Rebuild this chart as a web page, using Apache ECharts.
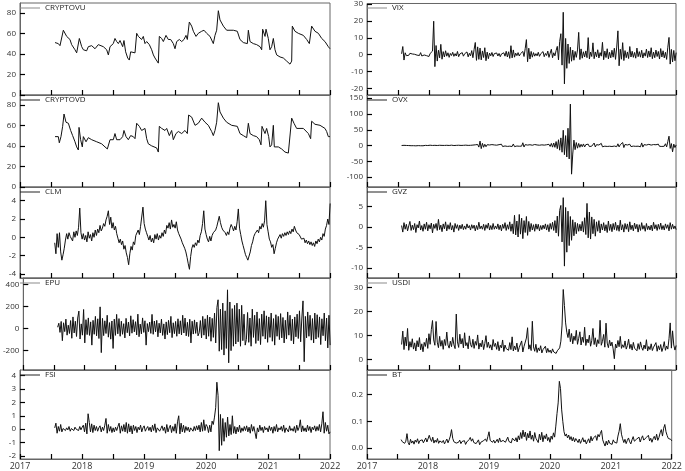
<!DOCTYPE html>
<html>
<head>
<meta charset="utf-8">
<script src="https://cdn.jsdelivr.net/npm/echarts@6/dist/echarts.min.js"></script>
<style>
  html, body { margin: 0; padding: 0; background: #fff; }
  #chart { width: 685px; height: 471px; }
</style>
</head>
<body>
<div id="chart"></div>
<script>
// weekly series start (decimal year) and step
const START = 2017.56;
const STEP = 1 / 52;

// CRYPTOVU / CRYPTOVD: irregular points
const cryptovuTimes = [2017.565,2017.618,2017.645,2017.672,2017.699,2017.715,2017.753,2017.806,2017.833,2017.887,2017.914,2017.941,2017.957,2017.995,2018.022,2018.048,2018.075,2018.102,2018.156,2018.210,2018.263,2018.290,2018.344,2018.398,2018.425,2018.452,2018.505,2018.532,2018.559,2018.586,2018.613,2018.656,2018.677,2018.704,2018.737,2018.763,2018.785,2018.817,2018.855,2018.882,2018.909,2018.962,2018.989,2019.016,2019.043,2019.086,2019.124,2019.151,2019.177,2019.204,2019.231,2019.247,2019.285,2019.312,2019.355,2019.392,2019.430,2019.473,2019.500,2019.527,2019.570,2019.608,2019.645,2019.677,2019.699,2019.731,2019.769,2019.796,2019.839,2019.876,2019.930,2019.968,2020.011,2020.065,2020.118,2020.145,2020.172,2020.199,2020.226,2020.280,2020.333,2020.441,2020.505,2020.548,2020.602,2020.667,2020.683,2020.710,2020.763,2020.817,2020.871,2020.898,2020.914,2020.952,2020.968,2021.005,2021.032,2021.059,2021.086,2021.113,2021.140,2021.194,2021.247,2021.301,2021.355,2021.382,2021.392,2021.435,2021.489,2021.570,2021.624,2021.667,2021.704,2021.758,2021.812,2021.866,2021.919,2021.973,2022.000];
const cryptovuValues = [51,50,48,47,63,64,57,54,49,44,41,42,55,47,44,45,43,47,48,45,49,50,47,44,39,47,50,55,52,50,53,47,53,42,36,34,42,41,41,60,57,54,57,50,52,49,44,39,36,35,31,57,55,52,58,54,54,50,45,52,54,52,54,58,54,71,67,62,57,60,62,63,60,57,50,58,63,82,73,67,63,63,62,54,51,50,63,52,50,49,47,44,64,57,64,55,44,47,55,44,39,37,36,33,30,33,67,62,60,58,54,50,67,62,60,55,52,47,45];

const cryptovdTimes = [2017.565,2017.618,2017.634,2017.661,2017.688,2017.710,2017.742,2017.780,2017.817,2017.849,2017.887,2017.914,2017.941,2017.952,2017.978,2018.005,2018.022,2018.065,2018.102,2018.156,2018.237,2018.317,2018.371,2018.409,2018.452,2018.505,2018.532,2018.559,2018.613,2018.656,2018.677,2018.710,2018.747,2018.785,2018.828,2018.855,2018.882,2018.925,2018.962,2019.016,2019.043,2019.070,2019.124,2019.204,2019.231,2019.247,2019.285,2019.339,2019.366,2019.409,2019.446,2019.473,2019.516,2019.554,2019.608,2019.661,2019.699,2019.720,2019.769,2019.823,2019.876,2019.930,2019.984,2020.038,2020.091,2020.118,2020.145,2020.172,2020.199,2020.226,2020.280,2020.333,2020.414,2020.505,2020.548,2020.602,2020.656,2020.683,2020.710,2020.763,2020.817,2020.860,2020.887,2020.903,2020.952,2020.978,2021.011,2021.032,2021.059,2021.086,2021.102,2021.167,2021.220,2021.274,2021.328,2021.355,2021.382,2021.419,2021.462,2021.516,2021.570,2021.651,2021.688,2021.704,2021.758,2021.839,2021.919,2021.946,2021.973,2022.000];
const cryptovdValues = [49,49,43,49,59,71,63,62,55,50,44,39,36,58,46,39,49,44,48,46,44,42,39,37,46,46,52,46,46,49,55,49,46,50,49,47,62,59,55,57,47,42,40,38,34,59,57,55,57,50,55,46,52,54,52,55,52,70,68,60,62,67,63,60,54,50,55,63,82,73,67,63,60,59,52,50,48,62,52,50,49,46,41,59,52,57,49,39,41,60,39,39,37,34,33,34,67,62,57,57,57,52,47,64,61,60,57,54,49,49];

// weekly values
const clmValues = [
  -0.6,-1.8,0.4,-1.1,0.5,-1.6,-2.5,-1.9,-1.2,-0.3,
  0.4,-0.2,0.5,0.1,0.3,-0.4,0.6,0.0,0.7,0.2,
  1.1,3.2,0.5,-0.2,0.4,-0.3,0.2,-0.5,0.6,-0.1,
  0.3,-0.4,0.5,0.0,0.8,0.2,0.9,0.5,1.3,0.7,
  1.0,1.5,1.2,1.9,2.3,2.9,1.4,2.2,1.0,1.6,
  0.8,1.2,0.4,-0.1,-0.6,-0.2,-0.8,-0.4,-1.3,-0.9,
  -1.7,-2.2,-3.0,-1.8,-1.0,-1.4,-0.5,-0.8,0.2,0.4,
  0.8,0.3,1.2,1.0,3.3,1.5,0.9,0.5,0.1,-0.3,
  0.2,-0.5,-0.1,-0.6,0.3,-0.2,0.4,-0.3,0.2,-0.1,
  0.5,0.1,0.8,0.4,1.3,1.0,1.6,0.9,1.9,1.1,
  1.4,1.0,1.7,0.8,0.4,0.6,-0.2,-0.6,-0.4,-1.2,
  -1.6,-2.2,-2.9,-3.5,-2.1,-1.2,-0.8,-1.1,-0.6,-0.9,
  -0.3,-0.6,0.2,0.6,1.5,2.9,0.9,0.3,-0.2,-0.5,
  0.1,-0.4,0.2,0.5,0.3,0.8,1.2,1.4,2.3,1.6,
  1.1,0.8,1.0,0.5,0.2,0.6,0.3,1.0,1.4,1.1,
  0.7,1.2,0.8,1.7,3.1,1.0,0.3,-0.4,-0.9,-1.4,
  -1.9,-2.2,-2.5,-2.7,-1.6,-0.9,-0.5,0.1,0.4,0.2,
  0.8,0.5,1.2,0.9,1.5,1.1,1.8,4.0,1.4,0.6,
  -0.2,-0.5,-1.1,-0.8,-1.8,-1.2,-0.6,-0.2,0.0,0.3,
  -0.1,0.4,0.1,0.5,0.2,0.6,0.3,0.7,0.4,0.9,
  0.6,1.2,0.8,0.5,0.7,0.3,0.1,-0.2,-0.4,-0.1,
  -0.6,-0.3,-0.7,-0.4,-0.8,-0.5,-0.9,-0.6,-1.0,-0.4,
  -0.7,-0.2,-0.5,0.0,-0.3,0.4,0.1,0.9,1.3,2.0,
  1.4,3.7
];

const epuValues = [
  12,48,-35,64,-110,52,-28,85,-60,30,
  -45,72,-88,105,-40,66,-72,95,158,-95,
  42,-60,172,-130,80,-55,96,-62,60,-150,
  74,-52,110,-66,88,-90,196,-218,92,-64,
  70,-45,120,-78,54,-96,68,-180,85,-62,
  128,-48,90,-70,66,-52,44,-85,92,-38,
  58,-66,115,-42,80,-30,62,-58,130,-74,
  40,-48,96,-35,70,-150,45,-28,58,-44,
  128,-52,68,-30,74,-75,48,-40,85,-62,
  42,-95,60,-55,74,-38,110,-82,52,-46,
  64,-70,88,-48,70,-58,120,-40,95,-66,
  56,-72,84,-130,66,-50,78,-44,58,-66,
  -38,72,-84,110,-60,88,-95,120,-70,104,
  -115,92,-80,140,-130,190,260,-205,175,-190,
  230,-240,160,-180,350,-310,240,-200,180,-160,
  210,-140,230,-120,175,-160,210,-110,130,-150,
  -100,145,-125,95,-160,175,-80,120,-135,150,
  -110,90,-145,130,-70,160,-95,115,-125,105,
  -80,140,-115,90,-150,125,-70,110,-100,135,
  -85,100,-130,75,-95,150,-60,120,-110,85,
  -140,105,-75,130,-90,160,-120,95,250,-300,
  110,-85,150,-70,120,-105,90,-130,140,-95,
  125,-80,105,-145,88,-65,140,-110,95,-175,
  120,-150
];

const fsiValues = [
  0.1,0.45,-0.3,0.2,-0.15,0.35,-0.2,0.05,0.15,-0.1,
  0.1,-0.05,0.2,-0.15,0.05,0.1,-0.1,0.15,0.0,0.1,
  -0.1,0.2,-0.05,0.15,0.3,-0.2,0.45,-0.35,1.15,0.5,
  -0.2,0.4,-0.25,0.3,-0.1,0.2,-0.15,0.1,0.25,-0.2,
  0.15,-0.1,0.3,0.8,-0.3,0.35,-0.15,0.2,-0.25,0.1,
  -0.2,0.15,-0.1,0.2,0.45,-0.3,0.25,-0.15,0.35,-0.2,
  0.5,-0.3,0.4,-0.2,0.25,-0.35,0.3,-0.1,0.2,-0.25,
  0.15,-0.05,0.3,-0.2,0.1,0.25,-0.15,0.05,0.2,-0.1,
  0.15,-0.2,0.3,-0.1,0.4,-0.25,0.1,0.2,-0.15,0.05,
  0.25,-0.1,0.15,-0.3,0.35,-0.2,0.1,0.3,-0.25,0.2,
  -0.15,0.4,-0.3,0.55,1.0,-0.35,0.45,-0.2,0.3,-0.25,
  0.2,-0.1,0.15,-0.2,0.1,0.05,-0.15,0.2,-0.1,0.25,
  -0.05,0.3,-0.2,0.5,-0.15,0.7,-0.1,0.35,0.2,-0.25,
  0.3,-0.2,0.6,0.35,0.9,1.6,3.5,2.5,-1.6,1.1,
  -1.2,0.8,-0.9,0.5,-0.6,0.9,-0.5,0.35,-0.4,1.0,
  -0.3,0.2,-0.35,0.15,-0.2,0.3,-0.25,0.1,-0.15,0.2,
  -0.1,0.25,-0.2,0.15,-0.3,0.35,-0.15,0.2,-0.25,-0.7,
  0.1,-0.2,0.3,-0.1,0.15,-0.25,0.2,-0.05,0.1,-0.2,
  0.25,-0.1,0.15,-0.3,0.2,-0.15,0.35,-0.2,0.1,-0.05,
  0.2,-0.15,0.3,-0.25,0.1,0.15,-0.2,0.25,-0.1,0.05,
  -0.15,0.2,-0.25,0.3,-0.1,0.15,0.7,-0.2,0.25,-0.15,
  0.1,-0.2,0.3,-0.1,0.2,-0.25,0.15,-0.05,0.25,-0.15,
  0.2,-0.1,0.35,-0.2,0.4,1.3,-0.3,0.5,-0.15,0.3,
  -0.35,-0.2
];

const vixValues = [
  0.5,4.8,-3.2,1.1,-0.6,0.3,-0.4,0.8,-0.2,0.4,
  -0.7,0.2,0.6,-0.3,0.1,-0.5,1.2,-0.8,0.3,-0.2,
  0.9,-0.6,0.4,-1.1,0.7,-0.3,2.1,19.8,-7.1,5.4,
  -3.8,2.6,-1.9,6.1,-2.7,1.8,-1.4,2.3,-0.9,1.1,
  -1.6,0.7,-0.5,1.4,-1.0,0.6,-0.8,1.9,-1.2,0.4,
  -0.6,1.2,-0.9,0.5,-0.4,1.6,-1.3,0.8,-0.7,2.4,
  -1.8,3.1,7.2,-3.4,4.6,-2.8,3.9,-3.1,2.2,-1.7,
  4.1,-3.6,1.5,-2.4,0.9,-0.7,1.3,-1.1,0.6,-0.5,
  1.0,-0.8,0.7,-1.2,0.4,-0.3,1.1,-0.9,2.0,-1.4,
  1.7,-2.2,5.3,-1.9,2.8,-1.5,0.9,-0.6,1.2,-0.8,
  0.5,-0.4,1.9,-1.1,3.6,8.9,-4.2,3.8,-2.6,1.9,
  -1.5,1.2,-0.9,0.6,-0.7,1.4,-1.0,0.5,-0.4,1.8,
  -1.2,0.7,-0.5,2.1,-1.6,0.9,3.2,-1.8,1.1,-0.7,
  2.4,4.9,-3.1,7.8,12.4,-6.2,25.1,-17.3,9.6,-8.1,
  6.3,-5.2,4.4,-3.9,2.7,-3.3,1.9,-1.6,2.8,13.2,
  -2.9,3.4,-2.1,1.7,-1.4,2.2,-1.8,10.1,-2.6,1.5,
  -1.1,7.0,-2.4,1.6,-1.3,2.9,-2.0,1.2,-0.9,7.3,
  -3.0,2.1,-1.7,3.5,-2.5,1.4,-1.9,2.6,-1.5,3.8,
  -2.8,4.5,14.1,-6.6,3.2,-2.7,7.1,-3.5,2.4,-1.8,
  1.6,-2.3,4.8,-1.4,2.0,-1.6,1.3,-2.1,3.9,-1.2,
  1.8,-1.5,2.6,-2.0,1.1,-0.9,3.3,-1.7,2.2,-1.3,
  4.1,-2.4,1.5,-1.8,2.7,-1.1,1.9,-2.6,3.6,-1.4,
  2.3,-1.9,1.4,-2.8,4.4,10.2,-5.6,3.1,-4.3,2.5,
  -3.6,1.2
];

const ovxValues = [
  0.3,-0.5,0.8,-0.2,0.4,-0.7,0.1,0.6,-0.4,0.2,
  -0.3,0.5,-0.8,0.3,-0.1,0.6,-0.5,0.2,-0.6,0.4,
  0.7,-0.3,0.2,-0.9,1.2,-0.6,0.4,-1.4,0.8,-0.5,
  0.3,-0.7,1.0,-0.4,0.6,-1.1,0.5,-0.3,0.9,-0.6,
  0.4,-0.8,1.3,-0.5,0.2,-0.9,0.7,-0.4,1.1,-0.6,
  0.5,-1.2,0.8,-0.3,1.4,-0.7,0.6,-1.0,0.9,-0.5,
  1.6,-1.3,2.4,-2.1,3.5,-4.8,14.2,-9.6,7.1,-5.3,
  4.2,-3.6,2.8,-2.5,1.9,-2.2,3.1,-1.8,2.0,-1.5,
  1.3,-2.4,2.9,-1.6,4.3,-3.0,1.7,-1.2,2.2,-2.6,
  3.6,-1.9,1.4,-2.8,5.1,-3.3,2.0,-1.4,1.8,-2.1,
  2.5,-1.7,8.9,-4.6,3.0,-2.2,1.6,-1.9,2.7,-1.3,
  1.1,-2.0,3.4,-1.5,1.9,-2.4,1.2,-1.0,2.3,-1.8,
  1.5,-1.1,2.6,-3.2,4.0,-2.7,6.8,-4.9,8.2,-5.5,
  12.7,-9.8,18.4,-14.6,24.3,-21.0,48.5,-28.7,31.6,-36.2,
  54.8,-42.1,131.2,-90.4,-26.8,17.3,-12.9,9.6,-8.2,6.7,
  -5.4,4.1,-3.6,5.2,-4.4,3.0,-2.6,4.5,-3.1,2.2,
  -1.8,3.7,8.1,-4.3,2.9,-2.4,1.8,-3.0,6.9,-3.8,
  2.5,-1.9,3.3,-2.7,1.6,-2.1,4.0,-2.9,1.9,-1.5,
  2.4,-3.4,5.6,-4.1,2.8,-2.0,9.7,-6.3,3.5,-2.6,
  1.8,-2.9,4.2,-3.1,2.2,-1.7,3.6,-2.4,1.5,-1.9,
  2.7,-3.8,8.4,-4.7,2.9,-2.2,1.7,-2.8,3.9,-2.0,
  1.6,-2.5,3.2,-1.8,2.6,-3.1,4.5,-2.3,1.9,-2.7,
  3.4,-2.1,5.8,-4.2,12.6,29.7,-8.9,6.3,-19.8,4.7,
  -6.2,2.1
];

const gvzValues = [
  0.4,-1.2,1.1,-0.5,0.7,-0.9,0.3,1.4,-0.8,0.5,
  -0.6,0.9,-1.3,0.6,-0.2,1.5,-0.7,0.4,-1.0,0.8,
  -0.5,1.2,-0.9,0.6,-0.4,1.0,-1.4,0.7,-0.3,0.9,
  -0.8,1.9,-0.6,0.5,-1.1,0.8,-0.4,1.3,-0.9,0.6,
  -0.5,1.1,-0.7,0.4,-1.2,0.9,-0.3,0.6,-0.8,0.5,
  -0.4,0.7,-0.6,0.3,-0.5,0.8,-0.2,0.4,-0.7,0.6,
  -0.3,0.5,-0.9,0.4,-0.6,1.2,-0.4,0.3,-0.5,0.7,
  -0.8,0.6,-0.3,1.0,-0.7,0.4,-0.6,0.9,-0.5,0.3,
  -0.4,0.8,-0.6,0.5,-0.9,0.7,-0.3,1.1,-0.8,0.6,
  -0.5,1.3,-1.0,0.8,-1.6,2.9,-1.9,1.5,-2.4,3.1,
  -1.7,2.2,-2.8,1.6,-1.3,2.6,-2.0,1.4,-1.1,0.9,
  -0.7,0.6,-1.0,0.8,-0.5,0.7,-0.9,0.4,-0.6,0.5,
  -0.4,0.8,-0.7,0.6,-1.1,0.9,-0.5,1.2,-0.8,1.6,
  -1.4,2.7,-2.2,4.1,5.3,-3.6,7.2,-9.5,4.8,-6.1,
  3.9,-4.5,2.6,-3.2,1.8,-2.1,1.2,-1.6,0.9,-1.0,
  0.7,-0.9,1.4,-1.2,2.3,-1.8,5.8,-2.6,3.7,-2.9,
  2.5,-1.6,1.9,-2.2,1.3,-1.0,1.6,-1.4,0.8,-0.7,
  1.1,-0.9,0.6,-1.3,1.5,-0.8,0.7,-1.1,0.9,-0.6,
  1.2,-0.8,0.5,-1.0,1.7,-0.7,0.6,-1.2,0.9,-0.5,
  0.8,-1.1,1.3,-0.6,0.5,-0.9,1.0,-0.4,0.7,-1.2,
  0.6,-0.8,1.1,-0.5,0.4,-1.0,0.9,-0.6,0.3,-0.7,
  0.5,-0.9,1.2,-0.4,0.6,-0.8,0.7,-0.5,1.0,-0.6,
  0.4,-0.7,0.8,-0.3,0.6,-0.9,1.1,-0.5,0.7,-0.4,
  0.3,-0.6
];

const usdiValues = [
  6.2,11.8,4.1,9.3,5.6,12.9,3.8,7.4,5.1,8.6,
  4.3,6.9,3.5,7.8,5.2,9.1,4.0,6.5,3.2,7.1,
  5.4,8.8,4.6,10.7,6.3,12.4,16.2,8.1,5.9,15.8,
  7.2,4.9,9.6,5.5,7.9,4.2,8.3,5.8,11.4,6.0,
  4.7,7.6,5.3,9.2,6.1,4.5,18.9,7.3,5.0,10.5,
  6.4,8.7,4.8,11.1,5.7,7.0,4.4,9.8,6.2,5.1,
  8.4,4.6,7.5,5.9,10.2,4.3,6.8,5.2,8.0,4.1,
  6.6,9.9,5.0,7.2,4.7,6.1,3.9,8.3,5.4,6.7,
  4.2,7.4,3.6,5.9,4.8,8.1,3.3,6.0,4.5,5.3,
  3.8,7.0,4.1,9.4,3.5,5.6,4.0,6.8,3.2,5.0,
  4.4,7.7,3.1,5.4,4.6,8.9,13.2,4.3,6.1,3.7,
  15.9,5.2,3.4,6.3,2.9,4.8,3.6,5.7,2.7,4.1,
  3.3,5.5,2.8,4.6,3.0,3.9,2.6,4.4,3.1,3.7,
  2.5,3.6,3.0,4.8,7.6,14.3,29.1,22.4,15.2,11.3,
  9.1,12.6,7.4,10.8,6.5,9.7,7.9,12.1,6.3,8.8,
  11.5,6.0,9.3,7.1,13.4,5.8,8.5,6.9,10.1,5.5,
  7.8,12.9,6.2,9.0,5.3,8.2,6.6,16.3,5.9,7.5,
  10.4,5.1,15.1,6.8,4.9,8.0,5.6,7.2,4.4,0.3,
  6.4,4.8,7.9,5.3,9.6,4.6,6.1,5.0,7.7,4.3,
  5.8,8.4,4.5,6.3,3.9,7.1,4.7,5.5,3.6,6.6,
  4.2,7.3,5.0,3.8,6.0,4.4,8.2,3.5,5.4,4.1,
  6.5,3.7,5.1,4.6,7.0,3.4,5.7,4.0,6.2,3.3,
  4.9,7.4,3.8,5.6,4.3,8.6,15.2,4.7,11.9,6.0,
  3.9,5.8
];

const btValues = [
  0.032,0.024,0.029,0.018,0.026,0.054,0.021,0.012,0.033,0.019,
  0.027,0.015,0.030,0.022,0.035,0.017,0.028,0.024,0.031,0.020,
  0.026,0.038,0.023,0.029,0.048,0.034,0.025,0.041,0.019,0.030,
  0.022,0.036,0.018,0.027,0.032,0.021,0.029,0.016,0.025,0.034,
  0.020,0.031,0.045,0.069,0.037,0.024,0.028,0.019,0.026,0.022,
  0.030,0.017,0.025,0.021,0.028,0.014,0.023,0.019,0.032,0.040,
  0.026,0.035,0.021,0.028,0.017,0.024,0.031,0.013,0.022,0.018,
  0.027,0.020,0.034,0.025,0.043,0.061,0.029,0.036,0.022,0.030,
  0.019,0.026,0.033,0.021,0.038,0.024,0.017,0.029,0.035,0.022,
  0.028,0.041,0.025,0.032,0.020,0.037,0.044,0.027,0.039,0.023,
  0.046,0.031,0.058,0.036,0.067,0.042,0.060,0.029,0.055,0.038,
  0.064,0.033,0.049,0.026,0.058,0.037,0.044,0.021,0.052,0.031,
  0.059,0.024,0.047,0.035,0.053,0.028,0.040,0.022,0.045,0.033,
  0.057,0.041,0.082,0.128,0.168,0.248,0.221,0.142,0.098,0.061,
  0.045,0.053,0.038,0.049,0.032,0.043,0.027,0.040,0.024,0.036,
  0.030,0.021,0.034,0.018,0.028,0.039,0.023,0.031,0.016,0.026,
  0.035,0.020,0.044,0.027,0.038,0.033,0.046,0.029,0.051,0.042,
  0.055,0.066,0.031,0.019,0.008,0.026,0.012,0.030,0.018,0.025,
  0.014,0.031,0.022,0.028,0.019,0.045,0.063,0.091,0.052,0.035,
  0.021,0.033,0.017,0.029,0.038,0.024,0.016,0.031,0.043,0.026,
  0.020,0.034,0.028,0.041,0.023,0.036,0.046,0.030,0.025,0.039,
  0.032,0.048,0.027,0.037,0.022,0.035,0.044,0.031,0.052,0.029,
  0.040,0.057,0.069,0.045,0.074,0.088,0.061,0.047,0.036,0.029,
  0.033,0.027
];

const yearTicks = [2017, 2018, 2019, 2020, 2021, 2022];
const halfYearTicks = [2017, 2017.5, 2018, 2018.5, 2019, 2019.5, 2020, 2020.5, 2021, 2021.5, 2022];

const panels = [
  { name: 'CRYPTOVU', col: 0, row: 0, times: cryptovuTimes, values: cryptovuValues, min: 0, max: 89.5, ticks: [0, 20, 40, 60, 80], legend: '#8a8a8a' },
  { name: 'CRYPTOVD', col: 0, row: 1, times: cryptovdTimes, values: cryptovdValues, min: 0, max: 89.5, ticks: [0, 20, 40, 60, 80], legend: '#222' },
  { name: 'CLM', col: 0, row: 2, values: clmValues, min: -4.45, max: 5.5, ticks: [-4, -2, 0, 2, 4], legend: '#222' },
  { name: 'EPU', col: 0, row: 3, values: epuValues, min: -375, max: 457, ticks: [-200, 0, 200, 400], legend: '#8a8a8a' },
  { name: 'FSI', col: 0, row: 4, values: fsiValues, min: -2.22, max: 4.41, ticks: [-2, -1, 0, 1, 2, 3, 4], legend: '#222' },
  { name: 'VIX', col: 1, row: 0, values: vixValues, min: -23.9, max: 30.3, ticks: [-20, -10, 0, 10, 20, 30], legend: '#8a8a8a' },
  { name: 'OVX', col: 1, row: 1, values: ovxValues, min: -131, max: 160, ticks: [-100, -50, 0, 50, 100, 150], legend: '#222' },
  { name: 'GVZ', col: 1, row: 2, values: gvzValues, min: -12.4, max: 9.8, ticks: [-10, -5, 0, 5], legend: '#222' },
  { name: 'USDI', col: 1, row: 3, values: usdiValues, min: -4.4, max: 33.9, ticks: [0, 10, 20, 30], legend: '#8a8a8a' },
  { name: 'BT', col: 1, row: 4, values: btValues, min: -0.04, max: 0.29, ticks: [0, 0.1, 0.2], legend: '#222', fixed: 1 }
];

const colLeft = [20, 367];
const colWidth = [310, 309];
const rowTop = [3, 95, 187, 278, 370];
const rowHeight = [92, 92, 91, 92, 92];
const frame = '#666';
const tickColor = '#000';

const grid = [], xAxis = [], yAxis = [], series = [], legend = [];

panels.forEach((p, k) => {
  const left = colLeft[p.col], top = rowTop[p.row];
  grid.push({ left: left, top: top, width: colWidth[p.col], height: rowHeight[p.row],
    show: true, borderColor: frame, borderWidth: 1 });

  xAxis.push({
    gridIndex: k, type: 'value', min: 2017, max: 2022, interval: 0.5,
    axisLine: { show: true, onZero: false, lineStyle: { color: frame } },
    axisTick: { show: true, inside: true, length: 5, customValues: halfYearTicks, lineStyle: { color: tickColor, width: 1.2 } },
    axisLabel: {
      show: p.row === 4, margin: 3, fontSize: 9, color: '#333', fontFamily: 'Open Sans',
      customValues: yearTicks, formatter: v => String(v)
    },
    splitLine: { show: false }
  });

  yAxis.push({
    gridIndex: k, type: 'value', min: p.min, max: p.max,
    axisLine: { show: true, onZero: false, lineStyle: { color: frame } },
    axisTick: { show: true, inside: true, length: 5, lineStyle: { color: tickColor, width: 1.2 }, customValues: p.ticks },
    axisLabel: {
      margin: 4, fontSize: 8, color: '#333', fontFamily: 'Open Sans',
      customValues: p.ticks,
      formatter: v => p.fixed ? v.toFixed(p.fixed) : String(v)
    },
    splitLine: { show: false }
  });

  const data = p.times
    ? p.values.map((v, i) => [p.times[i], v])
    : p.values.map((v, i) => [START + i * STEP, v]);

  series.push({
    name: p.name, type: 'line', xAxisIndex: k, yAxisIndex: k,
    data: data, symbol: 'none',
    lineStyle: { width: 1, color: '#111' },
    itemStyle: { color: '#111' }
  });

  legend.push({
    left: left, top: top + 1, padding: 0,
    data: [p.name], icon: 'rect', itemWidth: 20, itemHeight: 1,
    selectedMode: false,
    itemStyle: { color: p.legend },
    textStyle: { fontSize: 8, color: '#222', fontFamily: 'Open Sans' }
  });
});

const chart = echarts.init(document.getElementById('chart'));
chart.setOption({
  animation: false,
  grid, xAxis, yAxis, series, legend
});
</script>
</body>
</html>
